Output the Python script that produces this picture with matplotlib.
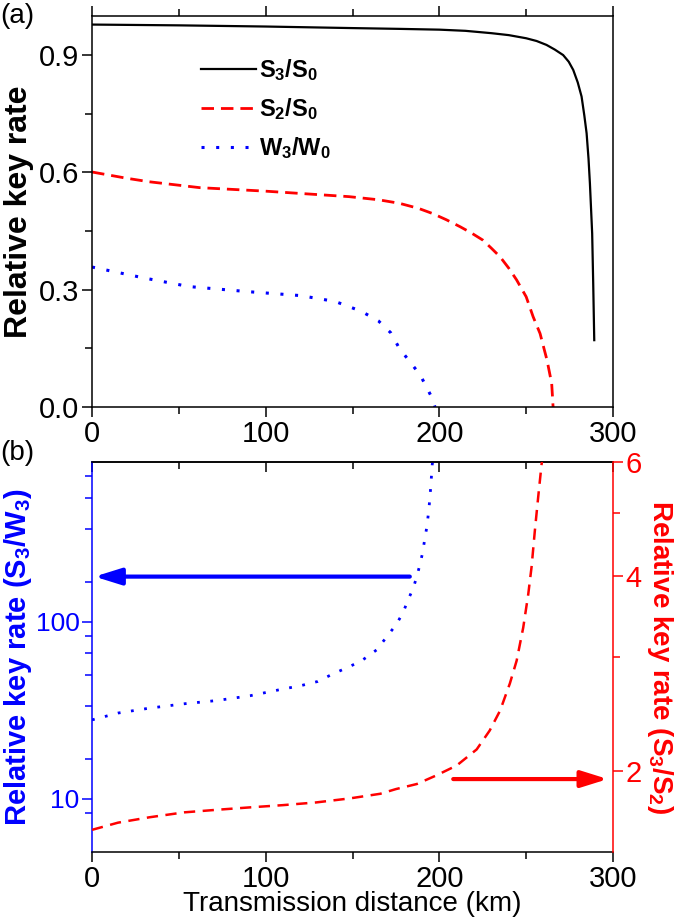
# Relative key rate vs transmission distance, two stacked panels (a) and (b)
import matplotlib
matplotlib.use("Agg")
import matplotlib.pyplot as plt
from matplotlib.ticker import FixedLocator, NullFormatter

plt.rcParams['font.family'] = ['Liberation Sans', 'DejaVu Sans']
plt.rcParams['mathtext.fontset'] = 'custom'
plt.rcParams['mathtext.rm'] = 'Liberation Sans'
plt.rcParams['mathtext.bf'] = 'Liberation Sans:bold'
plt.rcParams['mathtext.it'] = 'Liberation Sans:italic'

# ---- panel (a) data (distance in km, relative key rate) ----
s3s0_x = [0, 50, 100, 150, 177, 200, 215, 230, 240, 250, 256, 261.7, 266.5, 271.3, 274.5, 277.1, 279.7,
          281.9, 283.5, 284.8, 285.9, 286.7, 288, 288.6, 289.2]
s3s0_y = [0.978, 0.976, 0.973, 0.969, 0.967, 0.965, 0.962, 0.956, 0.951, 0.943, 0.936, 0.926, 0.914, 0.900,
          0.883, 0.862, 0.830, 0.794, 0.745, 0.700, 0.635, 0.572, 0.444, 0.316, 0.171]

s2s0_x = [0, 20, 33, 62, 100, 148, 165, 177, 188, 196, 204, 212, 218.5, 225, 230, 235, 240, 244.5, 250, 254,
          258, 262, 264.7, 265.5]
s2s0_y = [0.601, 0.585, 0.576, 0.561, 0.552, 0.538, 0.530, 0.521, 0.508, 0.495, 0.479, 0.461, 0.445, 0.427,
          0.406, 0.384, 0.355, 0.325, 0.282, 0.231, 0.188, 0.120, 0.060, 0.0]

w3w0_x = [0, 30, 56, 90, 120, 140, 155, 165, 172, 177, 183, 189, 195.5, 197.5]
w3w0_y = [0.358, 0.330, 0.308, 0.295, 0.285, 0.270, 0.245, 0.220, 0.190, 0.150, 0.116, 0.082, 0.026, 0.0]

# ---- panel (b) data ----
s3w3_x = [0, 15, 33, 53, 72, 91, 110, 120, 130, 139, 148.5, 156, 164, 169.6, 175, 179, 182, 185, 187,
          188.8, 190.3, 191.7, 193, 194.2, 195, 195.9, 196.1]
s3w3_y = [27.9, 30.5, 32.5, 34.4, 35.9, 38.2, 41.7, 43.5, 46, 50.9, 55.9, 61, 69.5, 82, 96, 112, 133, 155, 180,
          210, 244, 297, 353, 458, 569, 771, 800]

s3s2_x = [0, 15, 33, 53, 72, 91, 110, 129, 148.5, 166, 175, 187, 198, 210, 221.5, 229, 235, 240.6, 244.5,
          248.3, 251.2, 253.1, 255, 256.9, 258.9, 259.1]
s3s2_y = [1.623, 1.665, 1.697, 1.727, 1.743, 1.758, 1.772, 1.789, 1.815, 1.845, 1.876, 1.91, 1.968, 2.04, 2.16,
          2.31, 2.48, 2.73, 2.96, 3.33, 3.75, 4.13, 4.70, 5.29, 5.96, 6.0]

x_ticks = [0, 100, 200, 300]
a_yticks = [0.0, 0.3, 0.6, 0.9]
b_left_ticks = [10, 100]
b_left_minor = [8.33, 16.7, 33.3, 50, 66.7, 83.3, 167, 333, 500, 667]
b_right_ticks = [2, 4, 6]
b_right_minor = [3, 5]

fig = plt.figure(figsize=(6.85, 9.23), dpi=100)

# ================= panel (a) =================
ax = fig.add_axes([0.1343, 0.559, 0.7606, 0.4237])
ax.plot(s3s0_x, s3s0_y, color='black', lw=1.6, label=r'S$_\mathbf{3}$/S$_\mathbf{0}$')
ax.plot(s2s0_x, s2s0_y, color='red', lw=2.0, dashes=(4.5, 2.5), label=r'S$_\mathbf{2}$/S$_\mathbf{0}$')
ax.plot(w3w0_x, w3w0_y, color='blue', lw=2.2, dashes=(1, 3.8), label=r'W$_\mathbf{3}$/W$_\mathbf{0}$')
ax.set_xlim(0, 300)
ax.set_ylim(0, 1.0)
ax.set_xticks(x_ticks)
ax.set_xticks([50, 150, 250], minor=True)
ax.set_yticks(a_yticks)
ax.set_yticklabels(['0.0', '0.3', '0.6', '0.9'])
ax.set_yticks([0.15, 0.45, 0.75], minor=True)
ax.tick_params(which='both', direction='out', top=True, right=False, labelsize=21, width=1.1)
ax.tick_params(which='major', length=7, pad=2)
ax.tick_params(which='minor', length=5)
for s in ax.spines.values():
    s.set_linewidth(1.1)
ax.set_ylabel('Relative key rate', fontsize=23, fontweight='bold', labelpad=4)
ax.legend(loc='upper left', bbox_to_anchor=(0.21, 0.895), frameon=False, borderpad=0, borderaxespad=0,
          prop={'size': 17, 'weight': 'bold'}, handlelength=2.3, handletextpad=0.15, labelspacing=0.55)

# ================= panel (b) =================
bx = fig.add_axes([0.1343, 0.0769, 0.7606, 0.4226])
bx.plot(s3w3_x, s3w3_y, color='blue', lw=2.0, dashes=(1, 3.8))
bx.set_yscale('log')
bx.set_xlim(0, 300)
bx.set_ylim(5, 800)
bx.set_xticks(x_ticks)
bx.set_xticks([50, 150, 250], minor=True)
bx.yaxis.set_major_locator(FixedLocator(b_left_ticks))
bx.set_yticklabels([str(t) for t in b_left_ticks])
bx.yaxis.set_minor_locator(FixedLocator(b_left_minor))
bx.yaxis.set_minor_formatter(NullFormatter())
bx.tick_params(axis='x', which='both', direction='out', labelsize=21, width=1.1)
bx.tick_params(axis='y', which='both', direction='out', colors='blue', labelsize=19, width=1.1)
bx.tick_params(which='major', length=7, pad=2)
bx.tick_params(which='minor', length=5)
bx.spines['left'].set_color('blue')
bx.spines['right'].set_visible(False)
for s in bx.spines.values():
    s.set_linewidth(1.1)
bx.set_xlabel('Transmission distance (km)', fontsize=20, labelpad=-1)
bx.set_ylabel(r'Relative key rate (S$_\mathbf{3}$/W$_\mathbf{3}$)', fontsize=21, fontweight='bold',
              color='blue', labelpad=1)

top = bx.secondary_xaxis('top')
top.set_xticks(x_ticks)
top.set_xticks([50, 150, 250], minor=True)
top.tick_params(which='both', direction='in', labeltop=False, width=1.1)
top.tick_params(which='major', length=7)
top.tick_params(which='minor', length=5)
top.spines['top'].set_linewidth(1.1)

tw = bx.twinx()
tw.plot(s3s2_x, s3s2_y, color='red', lw=1.8, dashes=(4.5, 3))
tw.set_yscale('log')
tw.set_ylim(1.5, 6)
tw.yaxis.set_major_locator(FixedLocator(b_right_ticks))
tw.set_yticklabels([str(t) for t in b_right_ticks])
tw.yaxis.set_minor_locator(FixedLocator(b_right_minor))
tw.yaxis.set_minor_formatter(NullFormatter())
tw.tick_params(axis='y', which='both', direction='out', colors='red', labelsize=21, width=1.1)
tw.tick_params(which='major', length=7, pad=2)
tw.tick_params(which='minor', length=5)
for k in ['left', 'top', 'bottom']:
    tw.spines[k].set_visible(False)
tw.spines['right'].set_color('red')
tw.spines['right'].set_linewidth(1.1)
tw.set_ylabel(r'Relative key rate (S$_\mathbf{3}$/S$_\mathbf{2}$)', fontsize=20, fontweight='bold',
              color='red', rotation=270, labelpad=24)

# arrows pointing to the axis each curve belongs to
bx.annotate('', xy=(1.5, 180), xytext=(183, 180),
            arrowprops=dict(arrowstyle='-|>,head_length=0.8,head_width=0.25', color='blue', lw=3,
                            mutation_scale=20, shrinkA=0, shrinkB=0))
tw.annotate('', xy=(297, 1.944), xytext=(208, 1.944),
            arrowprops=dict(arrowstyle='-|>,head_length=0.8,head_width=0.25', color='red', lw=3,
                            mutation_scale=20, shrinkA=0, shrinkB=0))

fig.text(0.0, 1 - 16 / 923, '(a)', fontsize=20, va='center', ha='left')
fig.text(0.0, 1 - 453 / 923, '(b)', fontsize=20, va='center', ha='left')

fig.savefig('out.png', dpi=100)
